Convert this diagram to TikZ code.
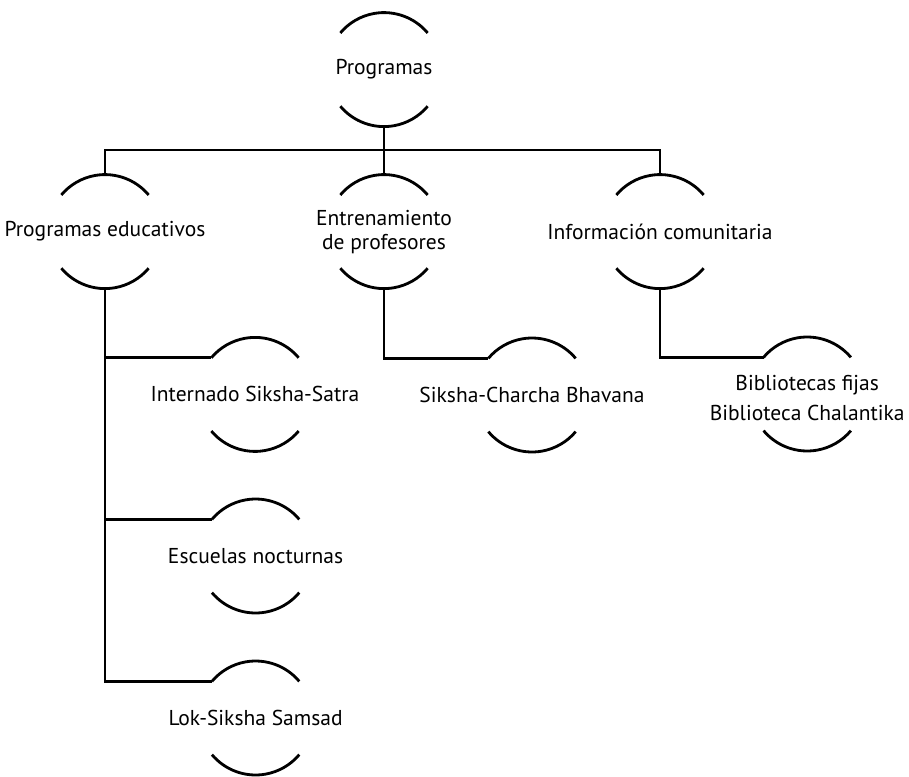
\documentclass[tikz,border=0pt]{standalone}
\usepackage{fontspec}
\setmainfont{PT Sans}

\tikzset{
  bubble/.style={circle, minimum size=2.85cm, inner sep=0pt, outer sep=0pt},
  caption/.style={font=\fontsize{15.3}{17}\selectfont, align=center},
}

\begin{document}
\begin{tikzpicture}[line width=2pt]
  \useasboundingbox (0,0) rectangle (22.725,-19.4);

  % bubbles
  \node [bubble] (root) at (9.6,-1.74) {};
  \node [bubble] (edu) at (2.625,-5.79) {};
  \node [bubble] (ent) at (9.6,-5.79) {};
  \node [bubble] (info) at (16.5,-5.79) {};
  \node [bubble] (int) at (6.375,-9.86) {};
  \node [bubble] (esc) at (6.39,-13.9) {};
  \node [bubble] (lok) at (6.39,-17.95) {};
  \node [bubble] (sik) at (13.3,-9.875) {};
  \node [bubble] (bib) at (20.18,-9.85) {};

  % texts
  \node [caption] (root-t) at (root) {Programas};
  \node [caption] (edu-t) at (edu) {Programas educativos};
  \node [caption] (ent-t) at (ent) {Entrenamiento\\de profesores};
  \node [caption] (info-t) at (info) {Información comunitaria};
  \node [caption] (int-t) at (int) {Internado Siksha-Satra};
  \node [caption] (esc-t) at (esc) {Escuelas nocturnas};
  \node [caption] (lok-t) at (lok) {Lok-Siksha Samsad};
  \node [caption] (sik-t) at (sik) {Siksha-Charcha Bhavana};
  \node [caption] (bib-t) at ([yshift=-0.1cm]bib) {Bibliotecas fijas\\[4pt]Biblioteca Chalantika};

  \foreach \n in {root,edu,ent,info,int,esc,lok,sik,bib}
    \draw (\n.40) arc (40:140:1.425cm) (\n.-140) arc (-140:-40:1.425cm);

  % connectors
  \coordinate (bar) at (9.6,-3.75);
  \draw (root.south) -- (bar);
  \draw (edu.north) |- (bar) -| (info.north);
  \draw (bar) -- (ent.north);
  \draw (edu.south) |- (lok.140);
  \draw (edu.south) |- (int.140);
  \draw (edu.south) |- (esc.140);
  \draw (ent.south) |- (sik.140);
  \draw (info.south) |- (bib.140);
\end{tikzpicture}
\end{document}
